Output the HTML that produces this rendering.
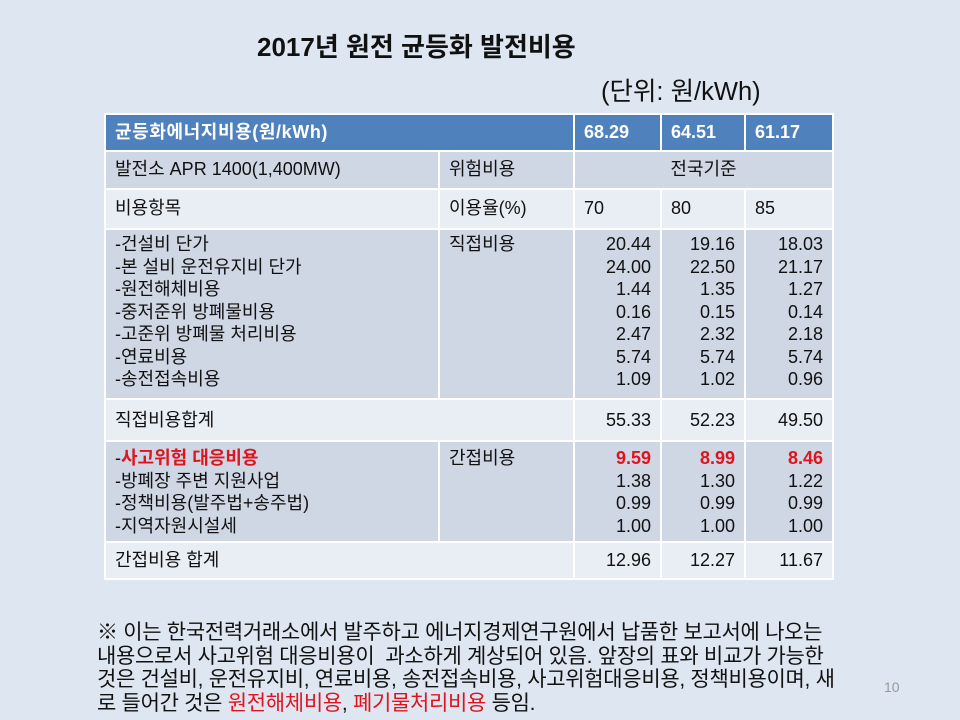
<!DOCTYPE html>
<html><head><meta charset="utf-8"><style>
body{margin:0;width:960px;height:720px;background:#dee6f1;position:relative;overflow:hidden;font-family:"Liberation Sans","Noto Sans CJK KR","NanumGothic",sans-serif;color:#111}
.a{position:absolute;white-space:nowrap}
table{position:absolute;left:104px;top:113px;border-collapse:collapse;font-size:18px;table-layout:fixed}
td{border:2px solid #fff;padding:0 9px;vertical-align:top;line-height:22.5px;white-space:nowrap;overflow:hidden}
.h td{background:#4f81bd;color:#fff;font-weight:bold;vertical-align:middle}
.d td{background:#cfd6e4}
.l td{background:#e9edf4}
.r{text-align:right}
.red{color:#e0141e;font-weight:bold}
.k{letter-spacing:0.6px}
</style></head><body>
<div class="a" style="left:257px;top:27px;font-size:26px;font-weight:bold">2017년 원전 균등화 발전비용</div>
<div class="a" style="left:601px;top:71px;font-size:25.5px">(단위: 원/kWh)</div>
<table>
<colgroup><col style="width:334px"><col style="width:135px"><col style="width:87px"><col style="width:84px"><col style="width:88px"></colgroup>
<tr class="h" style="height:37px"><td colspan="2" class="k">균등화에너지비용(원/kWh)</td><td>68.29</td><td>64.51</td><td>61.17</td></tr>
<tr class="d" style="height:38px"><td style="padding-top:6px">발전소 APR 1400(1,400MW)</td><td style="padding-top:6px">위험비용</td><td colspan="3" style="text-align:center;padding-top:6px">전국기준</td></tr>
<tr class="l" style="height:40px"><td style="padding-top:7px">비용항목</td><td style="padding-top:7px">이용율(%)</td><td style="padding-top:7px">70</td><td style="padding-top:7px">80</td><td style="padding-top:7px">85</td></tr>
<tr class="d" style="height:170px"><td style="padding-top:3px">-건설비 단가<br>-본 설비 운전유지비 단가<br>-원전해체비용<br>-중저준위 방폐물비용<br>-고준위 방폐물 처리비용<br>-연료비용<br>-송전접속비용</td><td style="padding-top:3px">직접비용</td>
<td class="r" style="padding-top:3px">20.44<br>24.00<br>1.44<br>0.16<br>2.47<br>5.74<br>1.09</td>
<td class="r" style="padding-top:3px">19.16<br>22.50<br>1.35<br>0.15<br>2.32<br>5.74<br>1.02</td>
<td class="r" style="padding-top:3px">18.03<br>21.17<br>1.27<br>0.14<br>2.18<br>5.74<br>0.96</td></tr>
<tr class="l" style="height:42px"><td colspan="2" style="vertical-align:middle">직접비용합계</td><td class="r" style="vertical-align:middle">55.33</td><td class="r" style="vertical-align:middle">52.23</td><td class="r" style="vertical-align:middle">49.50</td></tr>
<tr class="d" style="height:101px"><td style="padding-top:5px">-<span class="red">사고위험 대응비용</span><br>-방폐장 주변 지원사업<br>-정책비용(발주법+송주법)<br>-지역자원시설세</td><td style="padding-top:5px">간접비용</td>
<td class="r" style="padding-top:5px"><span class="red">9.59</span><br>1.38<br>0.99<br>1.00</td>
<td class="r" style="padding-top:5px"><span class="red">8.99</span><br>1.30<br>0.99<br>1.00</td>
<td class="r" style="padding-top:5px"><span class="red">8.46</span><br>1.22<br>0.99<br>1.00</td></tr>
<tr class="l" style="height:37px"><td colspan="2" style="vertical-align:middle">간접비용 합계</td><td class="r" style="vertical-align:middle">12.96</td><td class="r" style="vertical-align:middle">12.27</td><td class="r" style="vertical-align:middle">11.67</td></tr>
</table>
<div class="a" style="left:97px;top:621px;font-size:21px;line-height:23.5px;letter-spacing:-0.3px">※ 이는 한국전력거래소에서 발주하고 에너지경제연구원에서 납품한 보고서에 나오는<br>내용으로서 사고위험 대응비용이&nbsp; 과소하게 계상되어 있음. 앞장의 표와 비교가 가능한<br>것은 건설비, 운전유지비, 연료비용, 송전접속비용, 사고위험대응비용, 정책비용이며, 새<br>로 들어간 것은 <span style="color:#e0141e">원전해체비용</span>, <span style="color:#e0141e">폐기물처리비용</span> 등임.</div>
<div class="a" style="left:884px;top:679px;font-size:14px;color:#999">10</div>
</body></html>
